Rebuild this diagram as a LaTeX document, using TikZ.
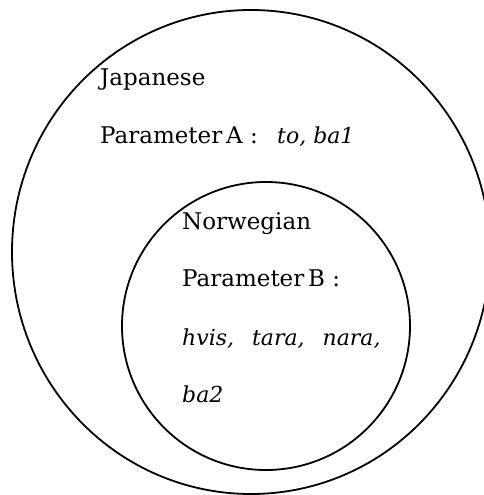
\documentclass[tikz,border=0pt]{standalone}
\usepackage{fontspec}
\setmainfont{DejaVu Serif}
\usepackage{tikz}

\begin{document}
\begin{tikzpicture}[x=1pt, y=-1pt,
    testo/.style={anchor=base west, inner sep=0pt, font=\fontsize{23}{28}\selectfont},
    parola/.style={testo, font=\fontsize{22}{26}\selectfont\itshape}]
    \useasboundingbox (0,0) rectangle (483,495);

    % Insiemi
    \draw[line width=1.8pt] (251,252) ellipse [x radius=239, y radius=242];
    \draw[line width=1.8pt] (266,326) circle (144);

    % Giapponese
    \node[testo] (jap) at (100,85) {Japanese};
    \node[testo] (parA) at (100,143) {Parameter\,A\ :};
    \node[parola] (valA) at (277,143) {to, ba1};

    % Norvegese
    \node[testo] (nor) at (182,229) {Norwegian};
    \node[testo] (parB) at (182,286) {Parameter\,B\ :};
    \node[parola] (valB) at (182,345) {hvis,\hspace{18pt}tara,\hspace{18pt}nara,};
    \node[parola] (valC) at (182,402) {ba2};
\end{tikzpicture}
\end{document}
